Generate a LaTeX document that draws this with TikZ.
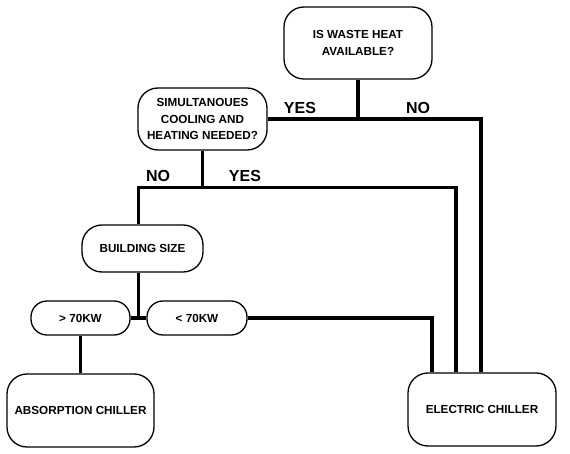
\documentclass[tikz,border=0pt]{standalone}
\usepackage{fontspec}
\setmainfont{Liberation Sans}
\usetikzlibrary{positioning}

\begin{document}
\begin{tikzpicture}[x=1pt,y=-1pt,
    box/.style={draw,line width=1.3pt,rounded corners=20pt,align=center,
      font=\bfseries\fontsize{11.7}{16.5}\selectfont,inner sep=0pt},
    link/.style={line width=3.6pt},
    answer/.style={font=\bfseries\fontsize{16}{18}\selectfont,inner sep=0pt}]
    \useasboundingbox (0,0) rectangle (570,454);
    \node[box,minimum width=148pt,minimum height=72pt] (waste) at (358,43) {IS WASTE HEAT\\AVAILABLE?};
    \node[box,minimum width=129pt,minimum height=62pt] (simul) at (202.5,119) {SIMULTANOUES\\COOLING AND\\HEATING NEEDED?};
    \node[box,minimum width=121pt,minimum height=47pt] (bsize) at (142.5,248.5) {BUILDING SIZE};
    \node[box,minimum width=99pt,minimum height=34pt,rounded corners=16pt] (big) at (80.5,318) {> 70KW};
    \node[box,minimum width=100pt,minimum height=34pt,rounded corners=16pt] (small) at (197,318) {< 70KW};
    \node[box,minimum width=147pt,minimum height=73pt] (absorb) at (80.5,410.5) {ABSORPTION CHILLER};
    \node[box,minimum width=148pt,minimum height=73pt] (elec) at (482,409.5) {ELECTRIC CHILLER};
    % answers
    \node[answer] (yes1) at (300,108) {YES};
    \node[answer] (no1) at (418,108) {NO};
    \node[answer] (no2) at (158,176) {NO};
    \node[answer] (yes2) at (245,176) {YES};
    % connectors
    \draw[link] (waste.south) -- (waste.south |- simul.east);
    \draw[link] (simul.east) -| ([xshift=-1pt]elec.north);
    \draw[link] (simul.south) -- ++(0,37) coordinate (fork2);
    \draw[link] ([xshift=-4pt]bsize.north) |- (fork2) -| ([xshift=-26pt]elec.north);
    \draw[link] ([xshift=-4pt]bsize.south) -- ++(0,46);
    \draw[link] (big.east) -- (small.west);
    \draw[link] (big.south) -- (absorb.north);
    \draw[link] (small.east) -| ([xshift=-50pt]elec.north);
  \end{tikzpicture}
\end{document}
